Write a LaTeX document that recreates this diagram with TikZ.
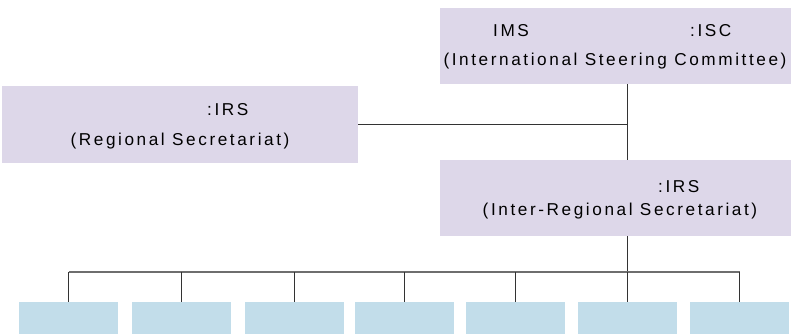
\documentclass[tikz,border=0pt]{standalone}
\usepackage{fontspec}
\setmainfont{Liberation Sans}
\newfontfamily\orgfont{Liberation Sans}[LetterSpace=15]
\usetikzlibrary{positioning}
\definecolor{lilac}{HTML}{DDD7E9}
\definecolor{paleblue}{HTML}{C2DDEA}
\definecolor{wirecol}{HTML}{333333}
\definecolor{buscol}{HTML}{6E6E6E}
\begin{document}
\begin{tikzpicture}[x=1pt, y=-1pt, line join=round, font=\orgfont\fontsize{17.2}{20}\selectfont]
	\tikzset{board/.style={fill=lilac, inner sep=0, minimum width=351pt, minimum height=76pt, anchor=north west},
		unit/.style={fill=paleblue, inner sep=0, minimum width=99pt, minimum height=32pt, anchor=north west},
		txt/.style={inner sep=0, anchor=base west},
		wire/.style={draw=wirecol, line width=0.9pt},
		busline/.style={draw=buscol, line width=1.4pt}}
	\useasboundingbox (0,0) rectangle (791,334);
	% boxes
	\node[board] (isc) at (440,8) {};
	\node[board, minimum width=356pt, minimum height=77pt] (rs) at (2,86) {};
	\node[board] (irs) at (440,160) {};
	\foreach \x [count=\i] in {19,132,245,355,466,578,690}
		\node[unit] (u\i) at (\x,302) {};
	% texts
	\node[txt] (iscA) at (493,37) {IMS};
	\node[txt] (iscB) at (690,37) {:ISC};
	\node[txt, anchor=base] (iscC) at (615,66) {(International Steering Committee)};
	\node[txt] (rsA) at (207,115) {:IRS};
	\node[txt, anchor=base] (rsB) at (180,145) {(Regional Secretariat)};
	\node[txt] (irsA) at (658,192) {:IRS};
	\node[txt, anchor=base] (irsB) at (620,215) {(Inter-Regional Secretariat)};
	% links
	\coordinate (bus) at (0,272);
	\draw[wire] (isc.south -| u6.north) -- (irs.north -| u6.north);
	\draw[wire] (rs.east) -- (rs.east -| u6.north);
	\draw[wire] (irs.south -| u6.north) -- (u6.north);
	\draw[busline] (u1.north |- bus) -- (u7.north |- bus);
	\foreach \i in {1,...,7}\draw[wire] (u\i.north |- bus) -- (u\i.north);
\end{tikzpicture}
\end{document}
